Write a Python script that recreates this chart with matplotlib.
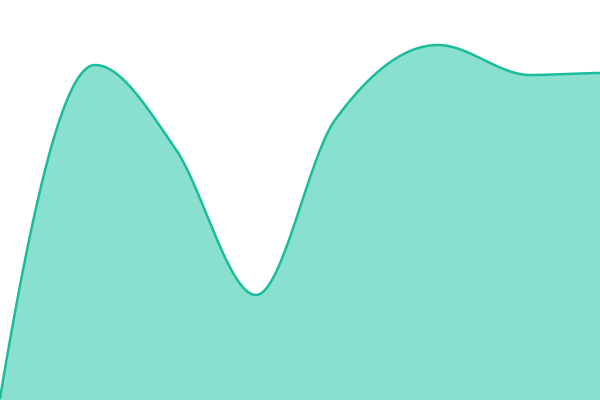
import numpy as np
import matplotlib
matplotlib.use("Agg")
import matplotlib.pyplot as plt

# key points (x in px, height above bottom in px)
xs = [0, 95, 175, 256, 335, 438, 530, 600]
heights = [2, 335, 252, 105, 280, 355, 325, 327]


def smooth_curve(x, y, xn):
    # cubic hermite: flat at peaks/troughs, centred slopes elsewhere
    x = np.asarray(x, float)
    y = np.asarray(y, float)
    h = np.diff(x)
    d = np.diff(y) / h
    m = np.zeros_like(y)
    for k in range(1, len(x) - 1):
        if d[k - 1] * d[k] > 0:
            m[k] = (y[k + 1] - y[k - 1]) / (x[k + 1] - x[k - 1])
    m[0] = ((2 * h[0] + h[1]) * d[0] - h[0] * d[1]) / (h[0] + h[1])
    m[-1] = 0.0
    idx = np.clip(np.searchsorted(x, xn) - 1, 0, len(h) - 1)
    t = (xn - x[idx]) / h[idx]
    h00 = 2 * t**3 - 3 * t**2 + 1
    h10 = t**3 - 2 * t**2 + t
    h01 = -2 * t**3 + 3 * t**2
    h11 = t**3 - t**2
    return h00 * y[idx] + h10 * h[idx] * m[idx] + h01 * y[idx + 1] + h11 * h[idx] * m[idx + 1]


xf = np.linspace(0, 600, 1200)
yf = smooth_curve(xs, heights, xf)

fig = plt.figure(figsize=(6, 4), dpi=100)
ax = fig.add_axes([0, 0, 1, 1])
ax.fill_between(xf, 0, yf, color="#8ae0cf", lw=0)
ax.plot(xf, yf, color="#1abc9c", lw=1.8, solid_capstyle="round")
ax.set_xlim(0, 600)
ax.set_ylim(0, 400)
ax.axis("off")

fig.savefig("out.png", dpi=100)
